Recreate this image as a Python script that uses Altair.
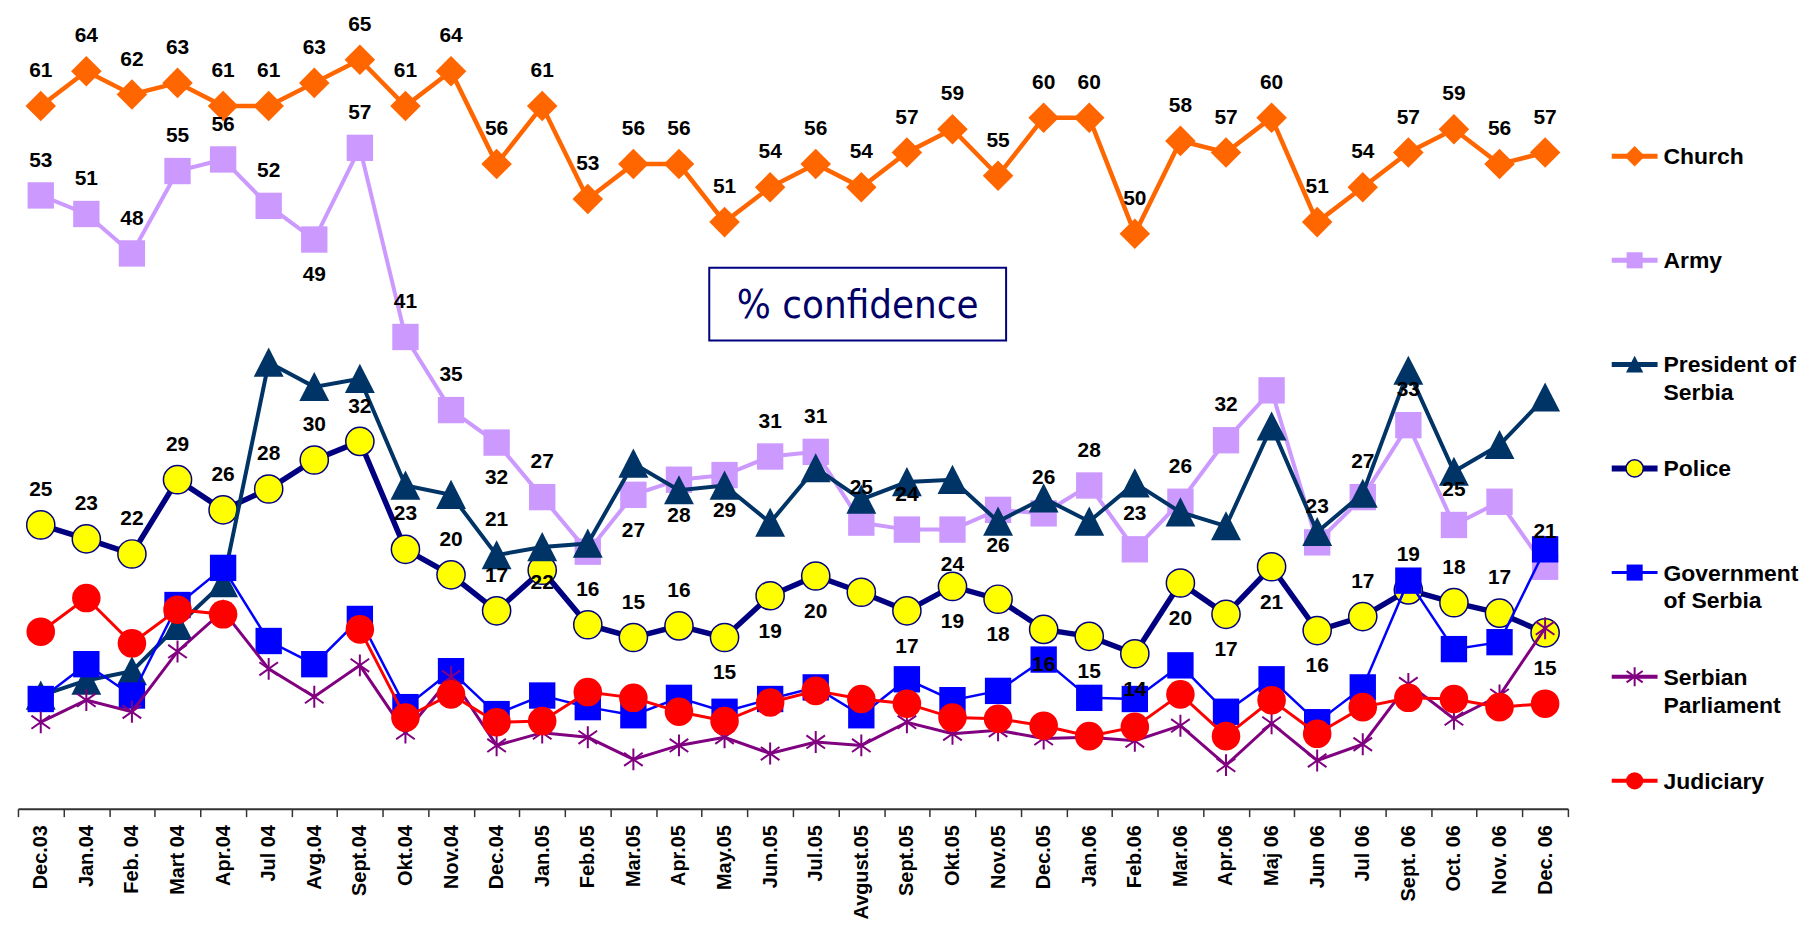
import altair as alt
import pandas as pd

categories = ["Dec.03", "Jan.04", "Feb. 04", "Mart 04", "Apr.04", "Jul 04", "Avg.04", "Sept.04",
              "Okt.04", "Nov.04", "Dec.04", "Jan.05", "Feb.05", "Mar.05", "Apr.05", "May.05",
              "Jun.05", "Jul.05", "Avgust.05", "Sept.05", "Okt.05", "Nov.05", "Dec.05", "Jan.06",
              "Feb.06", "Mar.06", "Apr.06", "Maj 06", "Jun 06", "Jul 06", "Sept. 06", "Oct. 06",
              "Nov. 06", "Dec. 06"]

church = [61, 64, 62, 63, 61, 61, 63, 65, 61, 64, 56, 61, 53, 56, 56, 51, 54, 56, 54, 57,
          59, 55, 60, 60, 50, 58, 57, 60, 51, 54, 57, 59, 56, 57]
army = [53.3, 51.7, 48.3, 55.4, 56.4, 52.4, 49.5, 57.4, 41.1, 34.8, 32.0, 27.3, 22.6, 27.5,
        28.8, 29.2, 30.8, 31.2, 25.1, 24.5, 24.5, 26.2, 25.9, 28.3, 22.8, 26.9, 32.2, 36.5,
        23.4, 27.3, 33.5, 24.9, 26.9, 21.3]
president = [10.2, 11.5, 12.3, 16.2, 19.9, 38.9, 36.8, 37.5, 28.3, 27.5, 22.3, 23.0, 23.3,
             30.2, 27.9, 28.3, 25.1, 29.8, 27.1, 28.6, 28.8, 25.2, 27.2, 25.2, 28.5, 26.0,
             24.8, 33.4, 24.3, 27.6, 38.2, 29.5, 31.8, 35.9]
police = [24.9, 23.7, 22.4, 28.8, 26.2, 28.0, 30.5, 32.1, 22.8, 20.6, 17.5, 21.0, 16.3, 15.2,
          16.2, 15.2, 18.8, 20.5, 19.1, 17.5, 19.6, 18.5, 15.9, 15.3, 13.8, 19.9, 17.2, 21.3,
          15.8, 17.0, 19.3, 18.2, 17.3, 15.6]
government = [9.9, 12.9, 10.2, 18.0, 21.2, 14.9, 12.9, 16.8, 9.2, 12.3, 8.6, 10.2, 9.2, 8.5,
              10.0, 8.8, 9.9, 10.9, 8.5, 11.6, 9.8, 10.6, 13.3, 10.0, 9.9, 12.8, 8.8, 11.6,
              7.9, 10.9, 20.1, 14.2, 14.8, 22.8]
parliament = [7.9, 9.8, 8.8, 14.0, 17.5, 12.5, 10.1, 12.8, 7.0, 11.8, 5.9, 7.0, 6.6, 4.7,
              5.9, 6.6, 5.2, 6.2, 5.9, 7.9, 6.9, 7.2, 6.5, 6.6, 6.3, 7.6, 4.2, 7.8, 4.6, 6.0,
              11.2, 8.2, 10.2, 16.0]
judiciary = [15.7, 18.6, 14.7, 17.6, 17.2, None, None, 15.9, 8.3, 10.3, 7.9, 8.0, 10.5, 10.0,
             8.8, 8.0, 9.6, 10.6, 9.9, 9.5, 8.3, 8.2, 7.6, 6.7, 7.5, 10.3, 6.7, 9.8, 6.9, 9.2,
             10.0, 9.9, 9.2, 9.5]

series_names = ["Church", "Army", "President of Serbia", "Police", "Government of Serbia",
                "Serbian Parliament", "Judiciary"]
legend_text = ["Church", "Army", "President of\nSerbia", "Police", "Government\nof Serbia",
               "Serbian\nParliament", "Judiciary"]

# data labels as printed on the reference (index -> text)
church_labels = {i: str(v) for i, v in enumerate(church)}
army_labels = {0: "53", 1: "51", 2: "48", 3: "55", 4: "56", 5: "52", 6: "49", 7: "57", 8: "41",
               9: "35", 10: "32", 11: "27", 13: "27", 14: "28", 15: "29", 16: "31", 17: "31",
               18: "25", 19: "24", 20: "24", 21: "26", 22: "26", 23: "28", 24: "23", 25: "26",
               26: "32", 28: "23", 29: "27", 30: "33", 31: "25", 33: "21"}
president_labels = {10: "21", 11: "22"}
police_labels = {0: "25", 1: "23", 2: "22", 3: "29", 4: "26", 5: "28", 6: "30", 7: "32", 8: "23",
                 9: "20", 10: "17", 12: "16", 13: "15", 14: "16", 15: "15", 16: "19", 17: "20",
                 19: "17", 20: "19", 21: "18", 22: "16", 23: "15", 24: "14", 25: "20", 26: "17",
                 27: "21", 28: "16", 29: "17", 30: "19", 31: "18", 32: "17", 33: "15"}

# which labels sit under their marker
army_below = {6, 10, 13, 14, 15, 20, 21}
president_below = {11}
police_below = {15, 16, 17, 19, 20, 21, 22, 23, 24, 25, 26, 27, 28, 33}

values = {"Church": church, "Army": army, "President of Serbia": president, "Police": police,
          "Government of Serbia": government, "Serbian Parliament": parliament,
          "Judiciary": judiciary}

STAR = "M0,-1L0,1M-0.85,-0.6L0.85,0.6M-0.85,0.6L0.85,-0.6"
TRI = "M0,-1L1,0.95L-1,0.95Z"

STY = {
    "Church": dict(line="#FF6600", width=4.5, shape="diamond", fill="#FF6600", stroke=None,
                   size=940, lsize=420, lw=5),
    "Army": dict(line="#CC99FF", width=4, shape="square", fill="#CC99FF", stroke=None,
                 size=700, lsize=260, lw=5),
    "President of Serbia": dict(line="#003366", width=4, shape=TRI, fill="#003366", stroke=None,
                                size=900, lsize=300, lw=5),
    "Police": dict(line="#000080", width=5.5, shape="circle", fill="#FFFF00", stroke="#000080",
                   size=800, lsize=300, lw=6),
    "Government of Serbia": dict(line="#0000FF", width=2.5, shape="square", fill="#0000FF",
                                 stroke=None, size=700, lsize=260, lw=3),
    "Serbian Parliament": dict(line="#800080", width=3, shape=STAR, fill=None, stroke="#800080",
                               size=484, lsize=361, lw=4),
    "Judiciary": dict(line="#FF0000", width=3, shape="circle", fill="#FF0000", stroke=None,
                      size=820, lsize=300, lw=4),
}

draw_order = ["Church", "Army", "Police", "President of Serbia", "Government of Serbia",
              "Serbian Parliament", "Judiciary"]

rows = []
for s in series_names:
    for c, v in zip(categories, values[s]):
        rows.append({"cat": c, "series": s, "value": v})
data = pd.DataFrame(rows)

lab_rows = []
for name, labs, below in [("Church", church_labels, set()), ("Army", army_labels, army_below),
                          ("President of Serbia", president_labels, president_below),
                          ("Police", police_labels, police_below)]:
    for i, t in labs.items():
        lab_rows.append({"cat": categories[i], "value": values[name][i], "text": t,
                         "place": "below" if i in below else "above"})
labels_df = pd.DataFrame(lab_rows)

FONT = "Liberation Sans, Arial, sans-serif"

x_enc = alt.X(
    "cat:N",
    scale=alt.Scale(type="band", domain=categories, paddingInner=0, paddingOuter=0),
    bandPosition=0.5,
    axis=alt.Axis(title=None, labelAngle=-90, tickBand="extent", labelFont=FONT,
                  labelFontSize=20, labelFontWeight="bold", labelColor="black",
                  labelPadding=8, labelOverlap=False, labelLimit=0,
                  domainColor="#333333", domainWidth=2, tickColor="#333333",
                  tickWidth=1.5, tickSize=8, grid=False),
)
y_enc = alt.Y("value:Q", scale=alt.Scale(domain=[0.45, 69.3], nice=False, zero=False),
              axis=None)

base = alt.Chart(data)
layers = []
for name in draw_order:
    s = STY[name]
    sub = base.transform_filter(alt.datum.series == name)
    lk = dict(color=s["line"], strokeWidth=s["width"])
    if name == "Judiciary":
        lk["invalid"] = "break-paths-filter-domains"
    layers.append(sub.mark_line(**lk).encode(x=x_enc, y=y_enc))
    pk = dict(shape=s["shape"], size=s["size"], opacity=1)
    if s["fill"] is None:
        pk.update(filled=False, stroke=s["stroke"], strokeWidth=2)
    else:
        pk.update(filled=True, fill=s["fill"])
        if s["stroke"]:
            pk.update(stroke=s["stroke"], strokeWidth=1.5)
    layers.append(sub.mark_point(**pk).encode(x=x_enc, y=y_enc))

one = pd.DataFrame({"k": [0]})
box = alt.Chart(one).mark_rect(fill="white", stroke="#000080", strokeWidth=2).encode(
    x=alt.value(694), x2=alt.value(992), y=alt.value(259), y2=alt.value(332))
box_text = alt.Chart(one).mark_text(
    text="% confidence", font="DejaVu Sans Condensed, DejaVu Sans", fontSize=40,
    color="#000066", align="center", baseline="middle").encode(
    x=alt.value(843), y=alt.value(297))
layers += [box, box_text]

lab_base = alt.Chart(labels_df)
for place, dy in [("above", -35), ("below", 36)]:
    layers.append(
        lab_base.transform_filter(alt.datum.place == place).mark_text(
            font=FONT, fontSize=21, fontWeight="bold", color="black", dy=dy,
            align="center", baseline="middle").encode(x=x_enc, y=y_enc, text="text:N"))

main = alt.layer(*layers).properties(width=1556, height=802)

leg_df = pd.DataFrame({"series": series_names, "label": legend_text})
ly = alt.Y("series:N", scale=alt.Scale(type="point", domain=series_names, range=[147, 774],
                                       padding=0), axis=None)
leg_layers = []
for name in series_names:
    s = STY[name]
    sub = alt.Chart(leg_df).transform_filter(alt.datum.series == name)
    leg_layers.append(sub.mark_rule(color=s["line"], strokeWidth=s["lw"]).encode(
        x=alt.value(7), x2=alt.value(53), y=ly))
    pk = dict(shape=s["shape"], size=s["lsize"], opacity=1)
    if s["fill"] is None:
        pk.update(filled=False, stroke=s["stroke"], strokeWidth=2)
    else:
        pk.update(filled=True, fill=s["fill"])
        if s["stroke"]:
            pk.update(stroke=s["stroke"], strokeWidth=1.5)
    leg_layers.append(sub.mark_point(**pk).encode(x=alt.value(30), y=ly))
leg_layers.append(alt.Chart(leg_df).mark_text(
    align="left", baseline="alphabetic", dy=8, lineBreak="\n", lineHeight=28, font=FONT,
    fontSize=23, fontWeight="bold", color="black").encode(x=alt.value(59), y=ly,
                                                           text="label:N"))
legend = alt.layer(*leg_layers).properties(width=190, height=802)

chart = alt.hconcat(main, legend, spacing=36).properties(
    padding=0, background="white").configure_view(strokeWidth=0)

chart.save("out.html", embed_options={"renderer": "svg", "actions": False})
